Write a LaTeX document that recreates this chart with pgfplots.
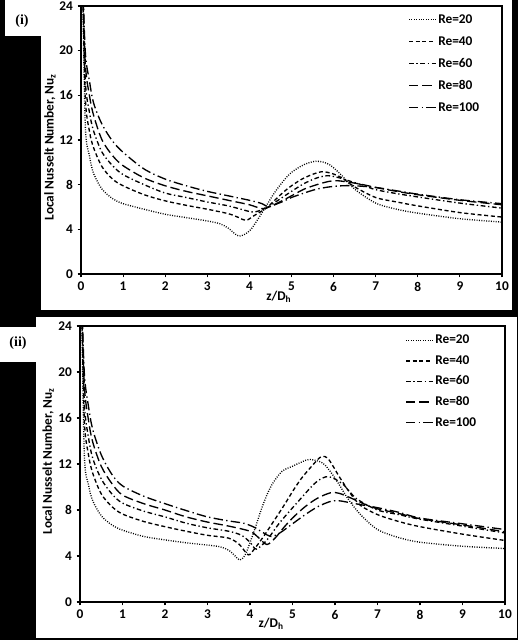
\documentclass[border=0pt]{standalone}
\usepackage{fontspec}
\setmainfont{Carlito}
\newfontfamily\serifbf{Liberation Serif}
\usepackage{pgfplots}
\pgfplotsset{compat=1.18}
\newcommand{\lf}{\fontsize{10}{12}\selectfont\bfseries}
\pgfplotsset{
 panel/.style={
  scale only axis, xmin=0, xmax=10, ymin=0, ymax=24,
  xtick={0,1,...,10}, ytick={0,4,...,24},
  tick align=outside, xtick pos=bottom, ytick pos=left,
  major tick length=2.5pt,
  axis line style={line width=0.8pt},
  every tick/.style={black, line width=0.8pt},
  tick label style={font=\lf},
  /pgf/number format/assume math mode=true,
  label style={font=\lf},
  legend cell align=left,
  legend image code/.code={\draw[##1] (0cm,0cm) -- (0.7cm,0cm);},
  every axis plot/.append style={line width=1pt, smooth, black, no markers},
 },
 r20/.style={dash pattern=on 0.7pt off 1.1pt},
 r40/.style={dash pattern=on 3pt off 2pt},
 r60/.style={dash pattern=on 3.5pt off 2pt on 1pt off 2pt},
 r80/.style={dash pattern=on 7pt off 3pt},
 r100/.style={dash pattern=on 7pt off 2.5pt on 1pt off 2.5pt},
}
\begin{document}
\begin{tikzpicture}[x=0.75pt,y=0.75pt]
\fill[black] (0,0) rectangle (518,640);
\fill[white] (41,330) rectangle (512,640);
\fill[white] (5,604) rectangle (41,640);
\fill[white] (36,2) rectangle (517,323);
\fill[white] (0,278) rectangle (36,313);
\node[font=\serifbf\bfseries\fontsize{10.5}{12}\selectfont] at (22,619) {(i)};
\node[font=\serifbf\bfseries\fontsize{10.5}{12}\selectfont] at (18,297) {(ii)};
% ---------------- panel (i)
\begin{axis}[panel, at={(60.75pt,274.5pt)}, anchor=south west, width=315.75pt, height=201pt,
  xlabel={z/D\textsubscript{h}}, ylabel={Local Nusselt Number, Nu\textsubscript{z}},
  x label style={at={(axis description cs:0.47,-0.10)}, anchor=base},
  y label style={at={(axis description cs:-0.074,0.474)}, anchor=center, rotate=0},
  legend style={draw=none, fill=none, at={(0.777,0.972)}, anchor=north west, inner sep=0pt,
    font=\lf, row sep=7.5pt, column sep=1.5pt, nodes={inner sep=0pt, text height=7pt, text depth=2pt}}]
\addplot[r20] coordinates {(0.03,28) (0.1,13.5) (0.2,10.6) (0.3,9.0) (0.5,7.6) (0.75,6.75) (1,6.3) (1.5,5.8) (2,5.35) (2.5,5.05) (3,4.75) (3.3,4.5) (3.5,4.1) (3.75,3.4) (4,3.85) (4.2,4.9) (4.4,6.1) (4.6,7.3) (4.8,8.3) (5,9.1) (5.3,9.8) (5.6,10.1) (5.9,9.8) (6.2,8.8) (6.5,7.6) (7,6.35) (7.5,5.8) (8,5.45) (9,4.95) (10,4.65)};
\addlegendentry{Re=20}
\addplot[r40] coordinates {(0.03,28) (0.1,16) (0.2,12.8) (0.3,11.3) (0.5,9.6) (0.75,8.5) (1,7.9) (1.5,7.1) (2,6.55) (2.5,6.15) (3,5.8) (3.5,5.4) (3.75,5.05) (3.92,4.8) (4.1,5.2) (4.4,5.9) (4.6,6.6) (4.8,7.3) (5,7.9) (5.3,8.6) (5.7,9.15) (6,8.95) (6.2,8.6) (6.5,7.8) (7,6.85) (7.5,6.45) (8,6.1) (9,5.5) (10,5.1)};
\addlegendentry{Re=40}
\addplot[r60] coordinates {(0.03,28) (0.1,17.5) (0.2,14.5) (0.3,12.8) (0.5,10.9) (0.75,9.7) (1,8.9) (1.5,8.0) (2,7.25) (2.5,6.85) (3,6.45) (3.5,6.1) (3.8,5.8) (4.1,5.55) (4.4,5.9) (4.6,6.4) (4.8,6.9) (5,7.4) (5.3,8.1) (5.6,8.6) (5.85,8.8) (6.1,8.65) (6.4,8.3) (6.7,7.95) (7,7.55) (7.5,7.2) (8,6.9) (9,6.35) (10,5.9)};
\addlegendentry{Re=60}
\addplot[r80] coordinates {(0.03,28) (0.1,19) (0.2,16) (0.3,14.2) (0.5,12) (0.75,10.6) (1,9.7) (1.5,8.6) (2,7.9) (2.5,7.4) (3,7.0) (3.5,6.6) (4,6.2) (4.3,5.85) (4.5,6.05) (4.8,6.6) (5,7.0) (5.3,7.6) (5.6,8.0) (5.9,8.3) (6.1,8.35) (6.4,8.2) (6.7,8.0) (7,7.75) (7.5,7.4) (8,7.1) (9,6.6) (10,6.2)};
\addlegendentry{Re=80}
\addplot[r100] coordinates {(0.03,28) (0.1,20) (0.2,17.3) (0.3,15.3) (0.5,13.4) (0.75,11.9) (1,10.9) (1.5,9.4) (2,8.5) (2.5,7.9) (3,7.4) (3.5,7.0) (4,6.6) (4.3,6.3) (4.45,6.0) (4.6,6.2) (4.8,6.5) (5,6.85) (5.3,7.25) (5.6,7.6) (5.9,7.8) (6.2,7.9) (6.5,7.9) (7,7.75) (7.5,7.45) (8,7.15) (9,6.65) (10,6.3)};
\addlegendentry{Re=100}
\end{axis}
% ---------------- panel (ii)
\begin{axis}[panel, at={(60pt,28.5pt)}, anchor=south west, width=318.75pt, height=207pt,
  xlabel={z/D\textsubscript{h}}, ylabel={Local Nusselt Number, Nu\textsubscript{z}},
  x label style={at={(axis description cs:0.45,-0.094)}, anchor=base},
  y label style={at={(axis description cs:-0.075,0.51)}, anchor=center, rotate=0},
  legend style={draw=none, fill=none, at={(0.765,0.970)}, anchor=north west, inner sep=0pt,
    font=\lf, row sep=6.4pt, column sep=1.5pt, nodes={inner sep=0pt, text height=7pt, text depth=2pt}}]
\addplot[r20] coordinates {(0.03,28) (0.1,13) (0.2,10.2) (0.3,8.8) (0.5,7.5) (0.75,6.7) (1,6.25) (1.5,5.7) (2,5.4) (2.5,5.15) (3,4.95) (3.3,4.8) (3.5,4.5) (3.65,4.0) (3.76,3.65) (3.9,4.2) (4.1,6.2) (4.3,8.4) (4.5,10.1) (4.75,11.35) (5,11.8) (5.2,12.15) (5.4,12.4) (5.7,12.1) (5.9,11.3) (6.1,10.2) (6.3,9.0) (6.6,7.6) (7,6.3) (7.5,5.6) (8,5.2) (9,4.85) (10,4.65)};
\addlegendentry{Re=20}
\addplot[r40] coordinates {(0.03,28) (0.1,16) (0.2,12.8) (0.3,11.2) (0.5,9.4) (0.75,8.3) (1,7.65) (1.5,7.0) (2,6.55) (2.5,6.15) (3,5.8) (3.5,5.55) (3.75,5.0) (3.96,4.1) (4.1,4.6) (4.3,5.6) (4.5,6.7) (4.8,8.4) (5,9.6) (5.2,10.7) (5.45,11.8) (5.68,12.65) (5.85,12.4) (6.1,10.9) (6.35,9.5) (6.6,8.4) (7,7.6) (7.5,7.0) (8,6.55) (9,5.9) (10,5.35)};
\addlegendentry{Re=40}
\addplot[r60] coordinates {(0.03,28) (0.1,17.5) (0.2,14.3) (0.3,12.5) (0.5,10.7) (0.75,9.4) (1,8.6) (1.5,7.9) (2,7.4) (2.5,6.85) (3,6.45) (3.5,6.15) (3.8,5.8) (4.0,5.2) (4.15,4.6) (4.4,5.4) (4.7,6.9) (5.1,8.6) (5.55,10.4) (5.85,10.9) (6.2,10.2) (6.5,9.0) (7,8.0) (7.5,7.6) (8,7.2) (9,6.6) (10,6.0)};
\addlegendentry{Re=60}
\addplot[r80] coordinates {(0.03,28) (0.1,19) (0.2,15.8) (0.3,13.9) (0.5,11.8) (0.75,10.3) (1,9.3) (1.5,8.55) (2,8.0) (2.5,7.4) (3,6.95) (3.5,6.6) (4,6.15) (4.2,5.6) (4.4,5.0) (4.6,5.6) (4.8,6.5) (5,7.3) (5.3,8.3) (5.6,9.05) (5.9,9.5) (6.1,9.45) (6.4,9.0) (6.7,8.5) (7,8.1) (7.5,7.7) (8,7.25) (9,6.7) (10,6.1)};
\addlegendentry{Re=80}
\addplot[r100] coordinates {(0.03,28) (0.1,20) (0.2,17) (0.3,15) (0.5,12.8) (0.75,11.1) (1,10.1) (1.5,9.2) (2,8.55) (2.5,7.95) (3,7.4) (3.5,7.05) (3.85,6.85) (4.1,6.5) (4.3,6.05) (4.5,5.7) (4.7,6.0) (5,6.8) (5.3,7.6) (5.6,8.3) (5.9,8.75) (6.1,8.8) (6.4,8.6) (6.7,8.4) (7,8.2) (7.5,7.8) (8,7.3) (9,6.8) (10,6.3)};
\addlegendentry{Re=100}
\end{axis}
\pgfresetboundingbox
\useasboundingbox (0,0) rectangle (518,640);
\end{tikzpicture}
\end{document}
